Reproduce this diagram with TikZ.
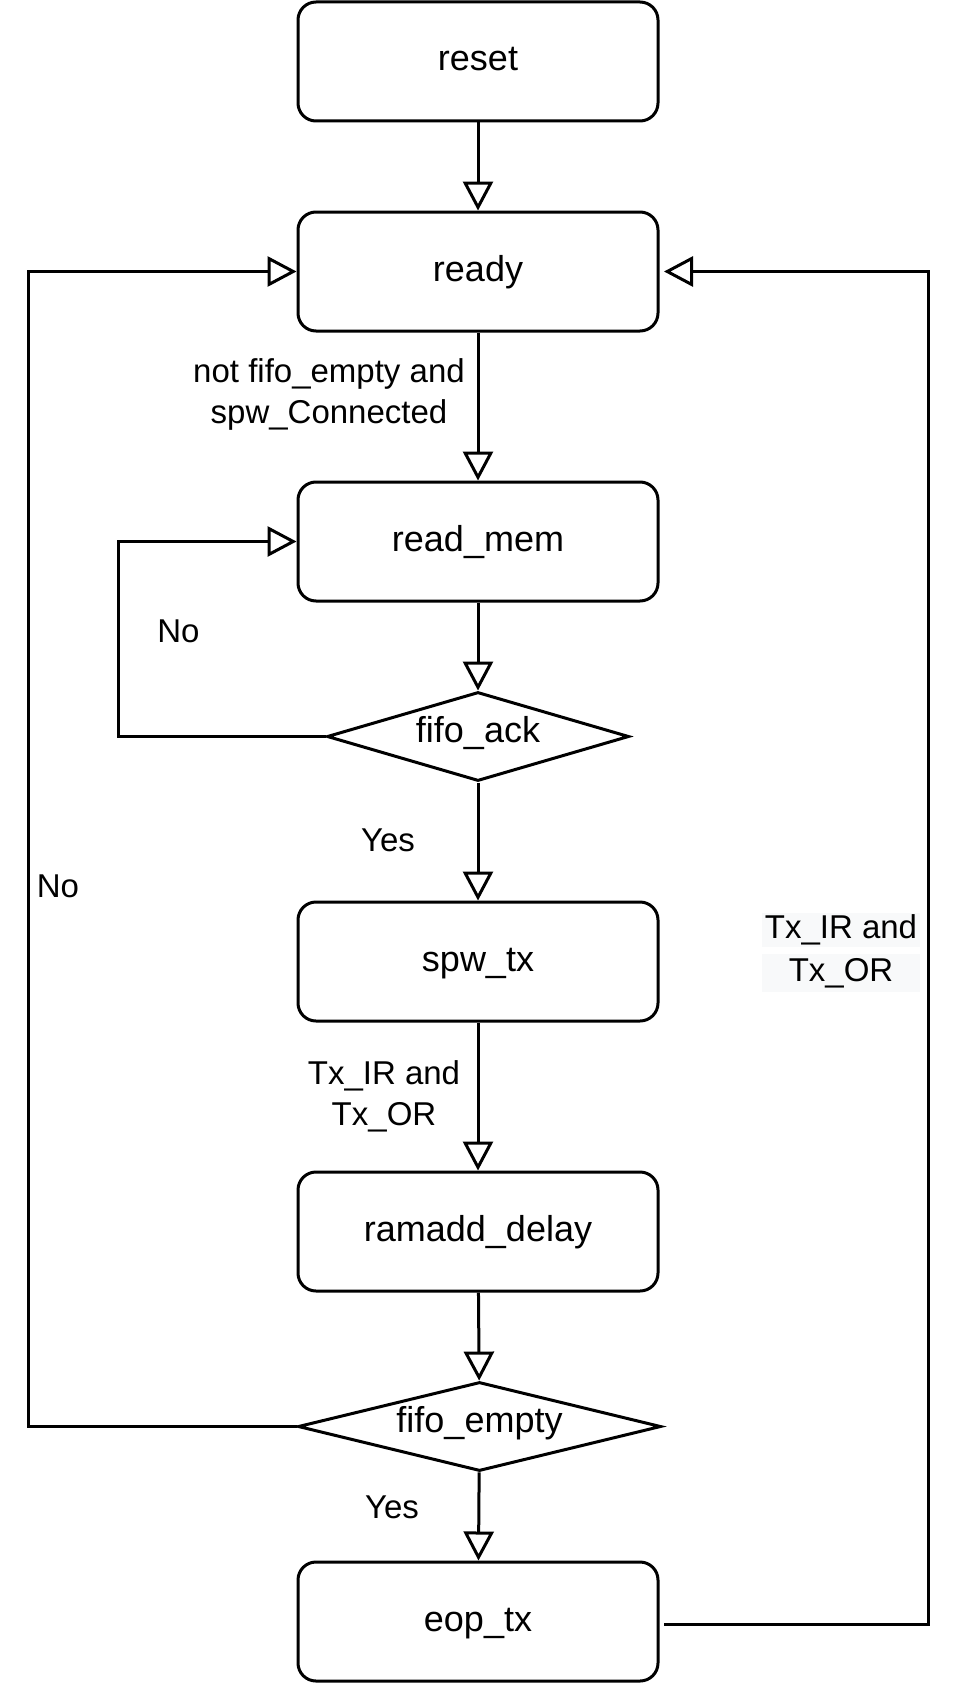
\documentclass[tikz,border=0pt]{standalone}
\usepackage{fontspec}
\setmainfont{Liberation Sans}
\usetikzlibrary{arrows.meta,shapes.geometric}
\definecolor{lblbg}{RGB}{248,249,250}
\begin{document}
\begin{tikzpicture}[x=1pt,y=-1pt,
  box/.style={draw, line width=3pt, rounded corners=18pt, minimum width=360pt,
    minimum height=119pt, inner sep=0pt, font=\fontsize{36}{43}\selectfont,
    text height=26pt, text depth=7pt},
  dec/.style={draw, diamond, line width=3pt, inner sep=0pt,
    font=\fontsize{36}{43}\selectfont, text height=26pt, text depth=7pt},
  arr/.style={line width=3pt, -{Triangle[open, length=29pt, width=30pt]}},
  lbl/.style={font=\fontsize{33}{41}\selectfont, align=center, inner sep=0pt},
  lblone/.style={font=\fontsize{33}{41}\selectfont, inner sep=0pt,
    text height=24pt, text depth=7pt, fill=lblbg, minimum width=158pt}
]
\useasboundingbox (0,0) rectangle (960,1683);
\fill[white] (0,0) rectangle (960,1683);

\node[box] (reset) at (478,61.5) {reset};
\node[box] (ready) at (478,271.5) {ready};
\node[box] (readmem) at (478,541.5) {read\_mem};
\node[dec, aspect=3.39, minimum width=302pt, minimum height=89pt] (ack) at (478,736.5) {\raisebox{4pt}{fifo\_ack}};
\node[box] (spw) at (478,961.5) {spw\_tx};
\node[box] (ram) at (478,1231.5) {ramadd\_delay};
\node[dec, aspect=4.08, minimum width=363pt, minimum height=89pt] (fe) at (479.5,1426.5) {\raisebox{4pt}{fifo\_empty}};
\node[box] (eop) at (478,1621.5) {eop\_tx};

\coordinate (L1) at (28,1426.5);
\coordinate (L2) at (118,736.5);
\coordinate (R1) at (928,1624);
\coordinate (R0) at (664,1624);
\coordinate (RT) at (664,271.5);

\draw[arr] (reset) -- (ready);
\draw[arr] (ready) -- (readmem);
\draw[arr] (readmem) -- (ack);
\draw[arr] (ack) -- (spw);
\draw[arr] (spw) -- (ram);
\draw[arr] (ram) -- (fe);
\draw[arr] (fe) -- (eop);
\draw[arr] (ack.west) -- (L2) |- (readmem.west);
\draw[arr] (fe.west) -- (L1) |- (ready.west);
\draw[arr] (R0) -- (R1) |- (RT);

\node[lbl] (l1) at (329,394.5) {not fifo\_empty and\\spw\_Connected};
\node[lbl] (l2) at (178.5,631) {No};
\node[lbl] (l3) at (388,840) {Yes};
\node[lbl] (l4) at (58,886) {No};
\node[lbl] (l5) at (384,1096) {Tx\_IR and\\Tx\_OR};
\node[lbl] (l6) at (392,1507) {Yes};
\node[lblone, minimum height=34pt] (r1) at (841,930) {Tx\_IR and};
\node[lblone, minimum height=38pt] (r2) at (841,973) {Tx\_OR};
\end{tikzpicture}
\end{document}
